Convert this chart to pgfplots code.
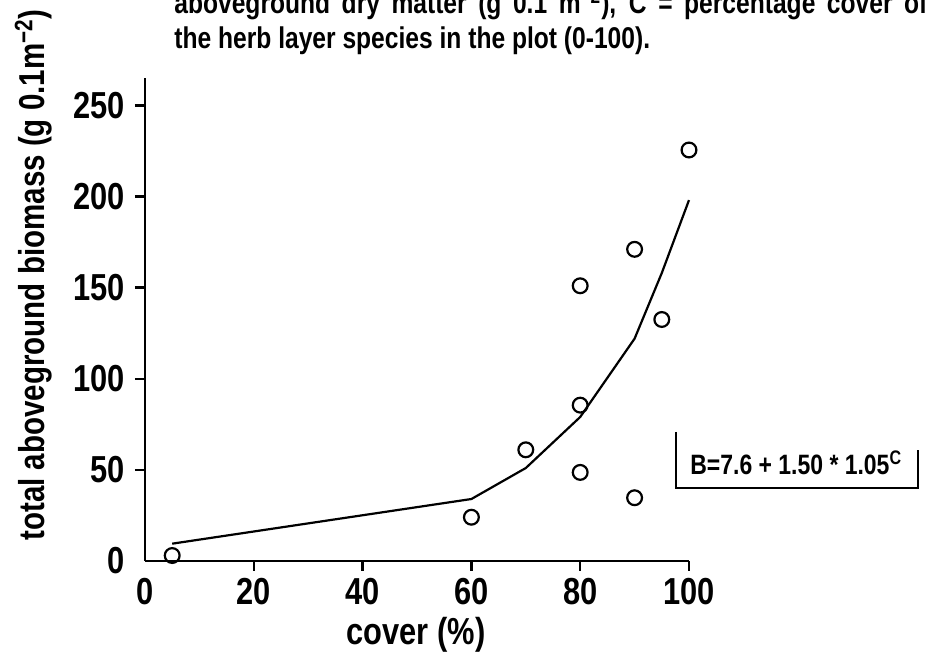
\documentclass[border=0pt]{standalone}
\usepackage{pgfplots}
\pgfplotsset{compat=1.18}
\usepackage{fontspec}
\setmainfont{Liberation Sans Bold}[FakeStretch=0.82]
\begin{document}
\begin{tikzpicture}
\useasboundingbox (-72.5pt,-47.5pt) rectangle (391.5pt,280.5pt);
\begin{axis}[
  at={(0,0)}, anchor=south west,
  scale only axis, width=272pt, height=241.5pt,
  xmin=0, xmax=100, ymin=0, ymax=265,
  axis lines*=left,
  axis line style={line width=1.3pt, -},
  xtick={20,40,60,80,100}, ytick={50,100,150,200,250},
  extra x ticks={0}, extra y ticks={0},
  extra tick style={major tick length=0pt,
    xticklabel style={yshift=-5pt}, yticklabel style={xshift=-5pt}},
  tick align=outside, major tick length=5pt,
  tick style={line width=1.2pt, black},
  ticklabel style={font=\fontsize{18.8}{20}\selectfont, inner sep=0pt},
  xticklabel style={anchor=north, yshift=-3.5pt},
  yticklabel style={anchor=east, xshift=-5pt},
  /pgf/number format/assume math mode=true,
  clip=false,
]
\addplot[black, line width=1.1pt] coordinates {(5,9.5) (60,34) (70,51) (80,79) (90,122) (95,158) (100,198)};
\addplot[only marks, mark=o, mark size=3.7pt, mark options={line width=1.1pt, black}] coordinates {
(5,3) (60,24) (70,61) (80,151) (80,85.5) (80,48.6) (90,171) (90,34.7) (95,132.5) (100,225.5)};
\end{axis}
\node[anchor=base west, inner sep=0pt, font=\fontsize{15}{16}\selectfont] at (14.5pt,273.5pt) {\makebox[376.5pt][s]{aboveground dry matter (g 0.1 m\textsuperscript{−2}), C = percentage cover of}};
\node[anchor=base west, inner sep=0pt, font=\fontsize{15}{16}\selectfont] at (14.5pt,256pt) {the herb layer species in the plot (0-100).};
\node[rotate=90, anchor=base west, inner sep=0pt, font=\fontsize{18}{20}\selectfont] at (-50pt,10pt) {total aboveground biomass (g 0.1m\textsuperscript{−2})};
\node[anchor=center, inner sep=0pt, font=\fontsize{18.8}{20}\selectfont] at (135.5pt,-37pt) {cover (\%)};
\draw[line width=1pt] (265.5pt,64.5pt) -- (265.5pt,36.5pt) -- (386.5pt,36.5pt) -- (386.5pt,55.5pt);
\node[anchor=west, inner sep=0pt, font=\fontsize{14}{15}\selectfont] at (272.5pt,49pt) {B=7.6 + 1.50 * 1.05\textsuperscript{C}};
\end{tikzpicture}
\end{document}
